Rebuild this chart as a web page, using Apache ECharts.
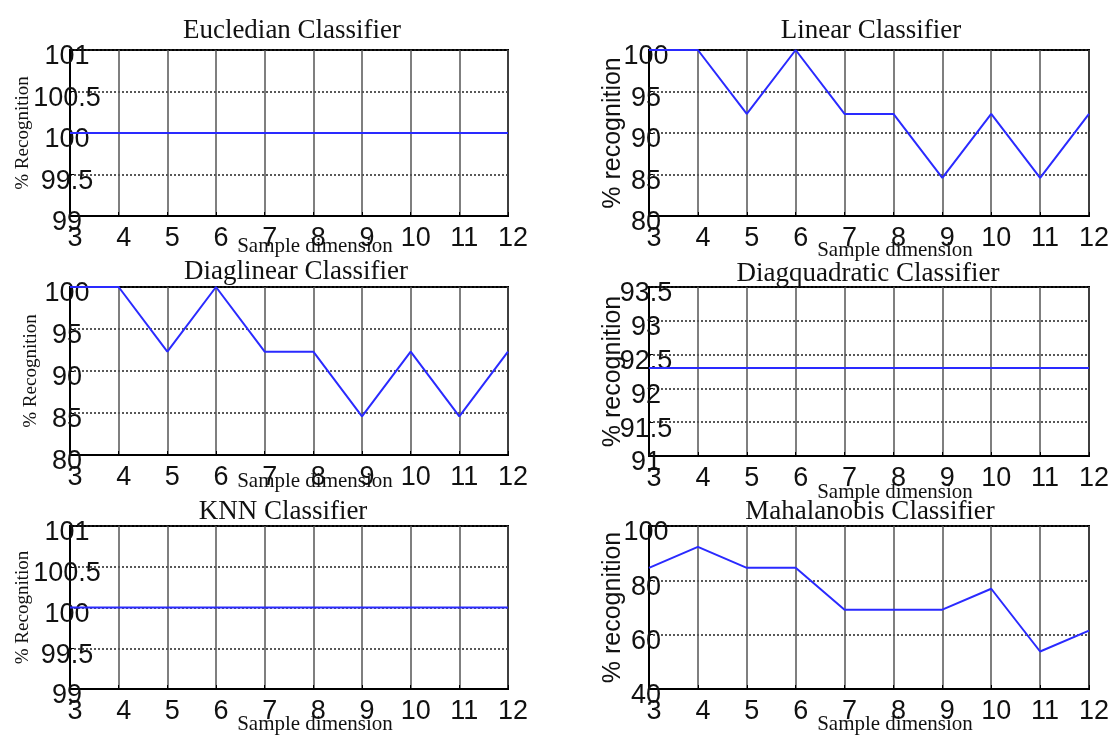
<!DOCTYPE html>
<html>
<head>
<meta charset="utf-8">
<script src="https://cdn.jsdelivr.net/npm/echarts@6/dist/echarts.min.js"></script>
<style>
html,body{margin:0;padding:0;background:#fff;}
#chart{width:1115px;height:736px;}
</style>
</head>
<body>
<div id="chart"></div>
<script>
// ---- data ----
const sampleDimension = [3, 4, 5, 6, 7, 8, 9, 10, 11, 12];
const eucledian     = [100, 100, 100, 100, 100, 100, 100, 100, 100, 100];
const linear        = [100, 100, 92.3, 100, 92.3, 92.3, 84.6, 92.3, 84.6, 92.3];
const diaglinear    = [100, 100, 92.3, 100, 92.3, 92.3, 84.6, 92.3, 84.6, 92.3];
const diagquadratic = [92.3, 92.3, 92.3, 92.3, 92.3, 92.3, 92.3, 92.3, 92.3, 92.3];
const knn           = [100, 100, 100, 100, 100, 100, 100, 100, 100, 100];
const mahalanobis   = [84.6, 92.3, 84.6, 84.6, 69.2, 69.2, 69.2, 76.9, 53.8, 61.5];

const titles = ['Eucledian Classifier', 'Linear Classifier', 'Diaglinear Classifier',
                'Diagquadratic Classifier', 'KNN Classifier', 'Mahalanobis Classifier'];
const yNames = ['% Recognition', '% recognition', '% Recognition', '% recognition', '% Recognition', '% recognition'];
const xName = 'Sample dimension';
const yRanges = [[99, 101, 0.5], [80, 100, 5], [80, 100, 5], [91, 93.5, 0.5], [99, 101, 0.5], [40, 100, 20]];
const seriesData = [eucledian, linear, diaglinear, diagquadratic, knn, mahalanobis];

// ---- layout ----
const grids = [
  {left: 70,  top: 50,  width: 438, height: 166},
  {left: 649, top: 50,  width: 440, height: 166},
  {left: 70,  top: 287, width: 438, height: 168},
  {left: 649, top: 287, width: 440, height: 169},
  {left: 70,  top: 526, width: 438, height: 166},
  {left: 649, top: 526, width: 440, height: 166}
];
const titlePos = [[287, 12], [866, 12], [291, 253], [863, 255], [278, 493], [865, 493]];
const xNameShift = [52, 52, 52, 52, 52, 52];
const xNameGap = [20, 24, 16, 26, 25, 25];
const yNameGap = [37, 23, 29, 23, 37, 23];

const serif = '"Liberation Serif", "Times New Roman", serif';
const sans = '"Liberation Sans", Arial, sans-serif';

const option = {
  animation: false,
  backgroundColor: '#fff',
  title: titles.map((t, i) => ({
    text: t, left: titlePos[i][0], top: titlePos[i][1], textAlign: 'center',
    textStyle: {fontFamily: serif, fontSize: 27, fontWeight: 'normal', color: '#111'}
  })),
  grid: grids.map(g => Object.assign({show: true, borderColor: '#000', borderWidth: 2, backgroundColor: '#fff'}, g)),
  xAxis: grids.map((g, i) => ({
    type: 'value', gridIndex: i, min: 3, max: 12, interval: 1,
    name: xName, nameLocation: 'middle', nameGap: xNameGap[i], nameMoveOverlap: false,
    nameTextStyle: {fontFamily: serif, fontSize: 21, color: '#111', padding: [0, 0, 0, xNameShift[i]]},
    axisLine: {show: true, onZero: false, lineStyle: {color: '#000', width: 2}},
    axisTick: {show: true, inside: true, length: 4, lineStyle: {color: '#000'}},
    axisLabel: {fontFamily: sans, fontSize: 27, color: '#111', margin: 9, padding: [0, 0, 0, 10]},
    splitLine: {show: true, lineStyle: {color: '#555', width: 1.5, type: 'solid'}}
  })),
  yAxis: grids.map((g, i) => ({
    type: 'value', gridIndex: i, min: yRanges[i][0], max: yRanges[i][1], interval: yRanges[i][2],
    name: yNames[i], nameLocation: 'middle', nameMoveOverlap: false,
    nameGap: yNameGap[i],
    nameTextStyle: (i % 2 === 0)
      ? {fontFamily: serif, fontSize: 19, color: '#111'}
      : {fontFamily: sans, fontSize: 25, color: '#111'},
    axisLine: {show: true, onZero: false, lineStyle: {color: '#000', width: 2}},
    axisTick: {show: true, inside: true, length: 4, lineStyle: {color: '#000'}},
    axisLabel: {fontFamily: sans, fontSize: 27, color: '#111', margin: 3, align: 'center',
                verticalAlign: 'top', lineHeight: 14},
    splitLine: {show: true, lineStyle: {color: '#222', width: 1.5, type: [2, 2]}}
  })),
  series: seriesData.map((d, i) => ({
    type: 'line', xAxisIndex: i, yAxisIndex: i,
    data: sampleDimension.map((x, k) => [x, d[k]]),
    showSymbol: false, symbol: 'none',
    lineStyle: {color: '#2a2aff', width: 2},
    z: 5
  }))
};

const chart = echarts.init(document.getElementById('chart'), null, {renderer: 'canvas'});
chart.setOption(option);
</script>
</body>
</html>
